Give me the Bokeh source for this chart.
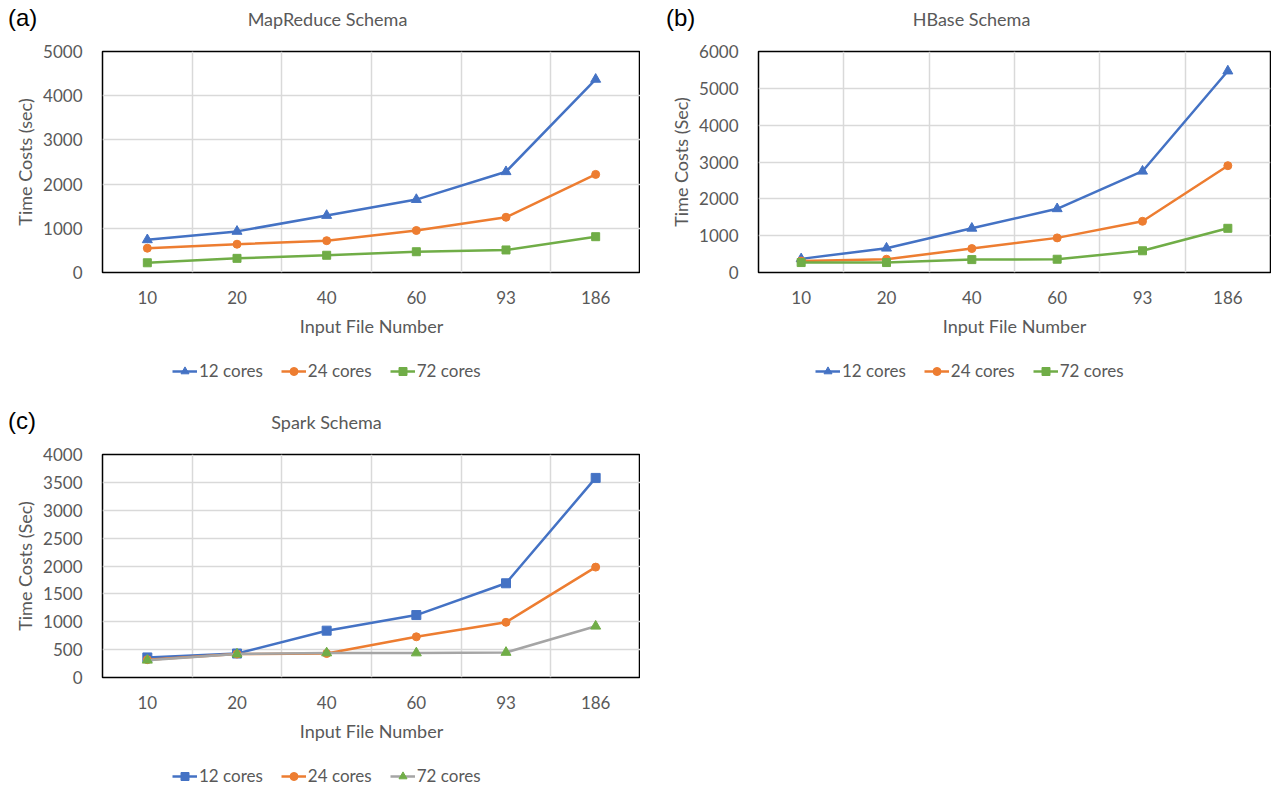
from bokeh.plotting import figure
from bokeh.models import FixedTicker, Legend, LegendItem, Label, Range1d, Div
from bokeh.layouts import column, row
from bokeh.embed import file_html
from bokeh.resources import INLINE

categories = ["10", "20", "40", "60", "93", "186"]
series_names = ["12 cores", "24 cores", "72 cores"]

mr_12 = [740, 930, 1290, 1650, 2280, 4370]
mr_24 = [550, 640, 720, 950, 1250, 2220]
mr_72 = [220, 320, 390, 470, 510, 810]

hb_12 = [370, 660, 1200, 1730, 2750, 5470]
hb_24 = [310, 360, 650, 940, 1390, 2900]
hb_72 = [270, 270, 350, 360, 590, 1200]

sp_12 = [360, 430, 840, 1120, 1690, 3580]
sp_24 = [320, 420, 430, 730, 990, 1980]
sp_72 = [310, 420, 440, 440, 450, 920]

BLUE = "#4472C4"
ORANGE = "#ED7D31"
GREEN = "#70AD47"
GRAY = "#A5A5A5"
TXT = "#595959"
FONT = "Lato"


def blank(width, height, bl, br):
    f = figure(width=width, height=height, output_backend="svg",
               toolbar_location=None, x_axis_type=None, y_axis_type=None,
               min_border_left=bl, min_border_right=br,
               min_border_top=0, min_border_bottom=0,
               x_range=Range1d(100, 101), y_range=Range1d(100, 101))
    f.outline_line_color = None
    f.grid.visible = False
    return f


def header(letter, title, width, bl, br, title_cx, letter_x):
    letter_div = Div(
        text=('<div style="font-family:\'Liberation Sans\',Arial,sans-serif;'
              'font-size:24px;line-height:28px;color:#000000;'
              'margin:4px 0 0 ' + str(letter_x) + 'px;padding:0;'
              'white-space:nowrap">' + letter + '</div>'),
        width=bl, height=40, margin=0)
    h = blank(width - bl, 40, 0, br)
    h.add_layout(Label(x=title_cx - bl, y=22, x_units="screen",
                       y_units="screen", text=title, text_font=FONT,
                       text_font_size="18px", text_color=TXT,
                       text_align="center", text_baseline="middle"))
    return row(letter_div, h)


def main(series, styles, ymax, ystep, ylabel, width, height, frame_h, bl, br):
    p = figure(width=width, height=height, output_backend="svg",
               toolbar_location=None, min_border_left=bl,
               min_border_right=br, min_border_top=11,
               min_border_bottom=height - 11 - frame_h)
    n = len(categories)
    xs = list(range(n))
    p.x_range = Range1d(-0.5, n - 0.5)
    p.y_range = Range1d(0, ymax)

    p.outline_line_color = "black"
    p.outline_line_width = 1.5
    p.outline_line_alpha = 1

    p.xaxis.ticker = FixedTicker(ticks=xs)
    p.xaxis.major_label_overrides = {i: c for i, c in enumerate(categories)}
    p.yaxis.ticker = FixedTicker(ticks=list(range(0, ymax + 1, ystep)))
    for ax in (p.xaxis, p.yaxis):
        ax.axis_line_color = None
        ax.major_tick_line_color = None
        ax.minor_tick_line_color = None
        ax.major_label_text_font = FONT
        ax.major_label_text_font_size = "17px"
        ax.major_label_text_color = TXT
        ax.axis_label_text_font = FONT
        ax.axis_label_text_font_size = "18px"
        ax.axis_label_text_font_style = "normal"
        ax.axis_label_text_color = TXT
    p.xaxis.axis_label = "Input File Number"
    p.xaxis.major_label_standoff = 12
    p.xaxis.axis_label_standoff = 8
    p.yaxis.axis_label = ylabel
    p.yaxis.major_label_standoff = 14
    p.yaxis.axis_label_standoff = 4

    p.xgrid.ticker = FixedTicker(ticks=[i + 0.5 for i in range(n - 1)])
    p.xgrid.grid_line_color = "#D9D9D9"
    p.xgrid.grid_line_width = 1.5
    p.ygrid.grid_line_color = "#D9D9D9"
    p.ygrid.grid_line_width = 1.5

    for ys, (lc, mc, marker, msize) in zip(series, styles):
        p.line(xs, ys, line_color=lc, line_width=2.5)
        p.scatter(xs, ys, marker=marker, size=msize, fill_color=mc,
                  line_color=mc)
    return p


def legend_fig(series, styles, width, height, bl, br, lx, ly):
    # legend strip: the same series, drawn outside this strip's range,
    # so that only their legend entries show
    f = blank(width, height, bl, br)
    xs = list(range(len(categories)))
    items = []
    for name, ys, (lc, mc, marker, msize) in zip(series_names, series, styles):
        ln = f.line(xs, ys, line_color=lc, line_width=2.5)
        sc = f.scatter(xs, ys, marker=marker, size=msize - 1,
                       fill_color=mc, line_color=mc)
        items.append(LegendItem(label=name, renderers=[ln, sc]))
    leg = Legend(items=items, orientation="horizontal",
                 location=(lx - bl, ly),
                 label_text_font=FONT, label_text_font_size="17px",
                 label_text_color=TXT, border_line_color=None,
                 background_fill_alpha=0, glyph_width=25, glyph_height=20,
                 label_standoff=2, spacing=18, padding=0, margin=0,
                 label_height=20)
    f.add_layout(leg)
    return f


st_a = [(BLUE, BLUE, "triangle", 10), (ORANGE, ORANGE, "circle", 8),
        (GREEN, GREEN, "square", 8)]
st_c = [(BLUE, BLUE, "square", 9), (ORANGE, ORANGE, "circle", 8),
        (GRAY, GREEN, "triangle", 10)]

ser_a = [mr_12, mr_24, mr_72]
ser_b = [hb_12, hb_24, hb_72]
ser_c = [sp_12, sp_24, sp_72]

panel_a = column(
    header("(a)", "MapReduce Schema", 640, 102, 0, 327, 8),
    main(ser_a, st_a, 5000, 1000, "Time Costs (sec)", 640, 305, 221, 102, 0),
    legend_fig(ser_a, st_a, 640, 58, 102, 0, 172, 22))
panel_b = column(
    header("(b)", "HBase Schema", 631, 118, 1, 331, 26),
    main(ser_b, st_a, 6000, 1000, "Time Costs (Sec)", 631, 305, 221, 118, 1),
    legend_fig(ser_b, st_a, 631, 58, 118, 1, 175, 22))
panel_c = column(
    header("(c)", "Spark Schema", 640, 102, 0, 326, 8),
    main(ser_c, st_c, 4000, 500, "Time Costs (Sec)", 640, 307, 223, 102, 0),
    legend_fig(ser_c, st_c, 640, 38, 102, 0, 172, 2))

layout = column(row(panel_a, panel_b), panel_c)
open("out.html", "w").write(file_html(layout, INLINE))
